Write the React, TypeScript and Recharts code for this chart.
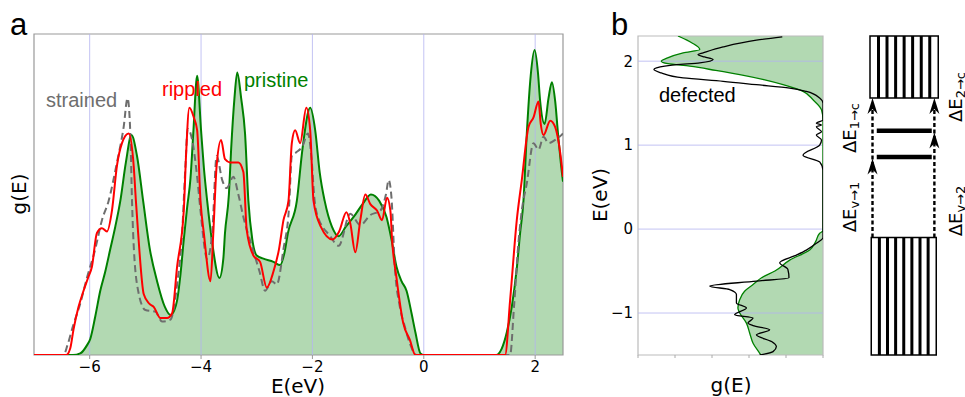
import React from 'react';
import {
  ComposedChart, Area, Line, XAxis, YAxis, ReferenceLine, ReferenceArea, Scatter,
} from 'recharts';

// ---- panel a : g(E) of the three sheets, [E (eV), g] ----
const pristineA: [number, number][] = [
  [-7, 0], [-6.3, 0], [-6.17, 0.005], [-6.05, 0.03], [-5.99, 0.05], [-5.9, 0.12], [-5.81, 0.2],
  [-5.72, 0.26], [-5.63, 0.33], [-5.54, 0.4], [-5.45, 0.48], [-5.35, 0.6], [-5.25, 0.685],
  [-5.15, 0.62], [-5.04, 0.48], [-4.92, 0.33], [-4.79, 0.23], [-4.65, 0.15], [-4.55, 0.125],
  [-4.48, 0.14], [-4.43, 0.17], [-4.37, 0.25], [-4.31, 0.36], [-4.25, 0.46], [-4.19, 0.55],
  [-4.14, 0.69], [-4.07, 0.87], [-4.0, 0.7], [-3.95, 0.585], [-3.89, 0.48], [-3.8, 0.35],
  [-3.67, 0.24], [-3.6, 0.3], [-3.57, 0.38], [-3.5, 0.5], [-3.46, 0.64], [-3.4, 0.8],
  [-3.35, 0.88], [-3.28, 0.8], [-3.21, 0.69], [-3.15, 0.48], [-3.08, 0.36], [-3.0, 0.31],
  [-2.88, 0.3], [-2.7, 0.29], [-2.58, 0.28], [-2.5, 0.32], [-2.44, 0.38], [-2.28, 0.48],
  [-2.18, 0.64], [-2.04, 0.77], [-1.95, 0.7], [-1.87, 0.57], [-1.78, 0.48], [-1.65, 0.4],
  [-1.53, 0.37], [-1.4, 0.4], [-1.26, 0.43], [-1.1, 0.47], [-0.95, 0.5], [-0.8, 0.48],
  [-0.67, 0.43], [-0.58, 0.36], [-0.49, 0.275], [-0.4, 0.23], [-0.31, 0.2], [-0.22, 0.13],
  [-0.15, 0.07], [-0.06, 0.005], [0, 0], [1.3, 0], [1.4, 0.02], [1.49, 0.07], [1.58, 0.15],
  [1.67, 0.27], [1.73, 0.38], [1.79, 0.48], [1.85, 0.69], [1.92, 0.87], [1.99, 0.95],
  [2.05, 0.88], [2.09, 0.79], [2.17, 0.72], [2.24, 0.8], [2.3, 0.85], [2.36, 0.79],
  [2.41, 0.69], [2.46, 0.6], [2.5, 0.54],
];

const rippledA: [number, number][] = [
  [-7, 0], [-6.42, 0], [-6.35, 0.02], [-6.29, 0.08], [-6.2, 0.15], [-6.11, 0.2], [-6.03, 0.24],
  [-5.96, 0.275], [-5.87, 0.38], [-5.78, 0.395], [-5.69, 0.385], [-5.6, 0.45], [-5.51, 0.59],
  [-5.42, 0.66], [-5.3, 0.69], [-5.21, 0.59], [-5.17, 0.48], [-5.13, 0.38], [-5.03, 0.19],
  [-4.93, 0.16], [-4.85, 0.15], [-4.73, 0.115], [-4.61, 0.115], [-4.52, 0.13], [-4.43, 0.275],
  [-4.31, 0.45], [-4.27, 0.62], [-4.21, 0.77], [-4.13, 0.74], [-4.07, 0.7], [-4.01, 0.48],
  [-3.95, 0.38], [-3.83, 0.23], [-3.78, 0.38], [-3.72, 0.59], [-3.64, 0.67], [-3.57, 0.61],
  [-3.48, 0.6], [-3.33, 0.6], [-3.24, 0.57], [-3.18, 0.39], [-3.06, 0.31], [-2.94, 0.29],
  [-2.82, 0.21], [-2.7, 0.26], [-2.6, 0.33], [-2.52, 0.42], [-2.43, 0.48], [-2.37, 0.66],
  [-2.31, 0.7], [-2.22, 0.66], [-2.11, 0.77], [-2.04, 0.7], [-1.98, 0.48], [-1.85, 0.4],
  [-1.64, 0.36], [-1.52, 0.385], [-1.39, 0.445], [-1.32, 0.41], [-1.23, 0.32], [-1.14, 0.42],
  [-1.05, 0.5], [-0.96, 0.47], [-0.84, 0.45], [-0.75, 0.42], [-0.66, 0.49], [-0.6, 0.45],
  [-0.57, 0.36], [-0.49, 0.24], [-0.37, 0.1], [-0.25, 0.047], [-0.15, 0], [1.46, 0],
  [1.55, 0.17], [1.67, 0.42], [1.76, 0.545], [1.88, 0.71], [1.97, 0.74], [2.06, 0.79],
  [2.1, 0.72], [2.15, 0.685], [2.27, 0.73], [2.36, 0.71], [2.45, 0.63], [2.5, 0.555],
];

const strainedA: [number, number][] = [
  [-7, 0], [-6.47, 0], [-6.4, 0.03], [-6.3, 0.09], [-6.17, 0.16], [-6.05, 0.24], [-5.9, 0.33],
  [-5.78, 0.42], [-5.66, 0.48], [-5.51, 0.6], [-5.39, 0.71], [-5.32, 0.8], [-5.27, 0.69],
  [-5.24, 0.48], [-5.15, 0.22], [-5.0, 0.14], [-4.82, 0.135], [-4.7, 0.104], [-4.55, 0.11],
  [-4.43, 0.22], [-4.34, 0.38], [-4.28, 0.59], [-4.24, 0.705], [-4.16, 0.67], [-4.07, 0.555],
  [-4.01, 0.45], [-3.89, 0.3], [-3.8, 0.38], [-3.72, 0.62], [-3.62, 0.545], [-3.54, 0.52],
  [-3.42, 0.555], [-3.33, 0.5], [-3.24, 0.43], [-3.09, 0.34], [-2.95, 0.26], [-2.85, 0.2],
  [-2.73, 0.23], [-2.64, 0.22], [-2.52, 0.33], [-2.42, 0.46], [-2.37, 0.62], [-2.3, 0.63],
  [-2.18, 0.65], [-2.08, 0.69], [-2.02, 0.62], [-1.96, 0.48], [-1.92, 0.44], [-1.68, 0.37],
  [-1.53, 0.34], [-1.32, 0.44], [-1.14, 0.405], [-0.96, 0.436], [-0.78, 0.45], [-0.68, 0.5],
  [-0.63, 0.545], [-0.58, 0.49], [-0.52, 0.275], [-0.43, 0.15], [-0.34, 0.088], [-0.25, 0.036],
  [-0.13, 0], [1.55, 0], [1.62, 0.15], [1.7, 0.35], [1.76, 0.45], [1.85, 0.535], [1.97, 0.66],
  [2.06, 0.64], [2.15, 0.68], [2.24, 0.66], [2.36, 0.67], [2.47, 0.685], [2.5, 0.69],
];

const ticksA = [-6, -4, -2, 0, 2];

// ---- panel b : rotated g(E), [E (eV), g] ----
const pristineB: [number, number][] = [
  [2.3, 3.92], [2.22, 3.55], [2.14, 3.33], [2.1, 3.78], [2.04, 4.2], [2.0, 4.37], [1.97, 4.19],
  [1.94, 3.6], [1.89, 2.9], [1.84, 2.25], [1.78, 1.6], [1.72, 1.08], [1.64, 0.54], [1.54, 0.27],
  [1.42, 0.04], [1.3, 0], [-0.02, 0], [-0.05, 0.09], [-0.15, 0.2], [-0.25, 0.36], [-0.37, 0.9],
  [-0.5, 1.3], [-0.58, 1.66], [-0.66, 1.89], [-0.74, 2.12], [-0.84, 2.25], [-0.94, 2.3],
  [-1.0, 2.25], [-1.12, 2.07], [-1.24, 1.98], [-1.36, 1.89], [-1.48, 1.71], [-1.5, 1.68],
];

const defectedB: [number, number][] = [
  [2.29, 1.1], [2.25, 1.8], [2.17, 2.7], [2.1, 3.24], [2.08, 3.38], [2.05, 3.2], [2.02, 2.97],
  [1.98, 3.33], [1.96, 3.96], [1.92, 4.5], [1.9, 4.57], [1.86, 4.37], [1.8, 3.78], [1.76, 2.7],
  [1.72, 1.8], [1.68, 0.9], [1.64, 0.45], [1.56, 0.09], [1.5, 0], [1.3, 0], [1.26, 0.18],
  [1.24, 0.04], [1.22, 0.18], [1.16, 0.04], [1.12, 0.18], [1.06, 0.04], [1.0, 0.09],
  [0.88, 0.54], [0.8, 0.09], [0.7, 0], [-0.1, 0], [-0.17, 0.18], [-0.25, 0.45], [-0.31, 0.72],
  [-0.4, 1.17], [-0.48, 0.95], [-0.58, 0.92], [-0.62, 1.8], [-0.68, 3.06], [-0.72, 2.52],
  [-0.78, 2.34], [-0.88, 2.34], [-0.94, 2.07], [-1.02, 2.39], [-1.06, 1.89], [-1.12, 2.03],
  [-1.15, 1.89], [-1.2, 1.44], [-1.26, 1.8], [-1.34, 1.39], [-1.4, 1.26], [-1.46, 1.35],
  [-1.5, 1.71],
];

const ticksBE = [-1, 0, 1, 2];
const ticksBG = [0, 1, 2, 3, 4, 5];

// ---- schematic : band boxes, defect levels and transitions on the same E axis ----
const bandBoxes = [
  { x1: 2.4, x2: 7.86, y1: 1.56, y2: 2.3 },
  { x1: 2.5, x2: 7.7, y1: -1.5, y2: -0.1 },
];
const conductionStripes = [3.08, 3.76, 4.45, 5.13, 5.81, 6.5, 7.18];
const valenceStripes = [3.15, 3.8, 4.45, 5.1, 5.75, 6.4, 7.05];
const defectLevels = [
  { E: 1.17, x1: 2.94, x2: 7.34 },
  { E: 0.86, x1: 2.94, x2: 7.34 },
];
const transitions = [
  { x: 2.6, from: -0.1, to: 1.56 },
  { x: 7.55, from: -0.1, to: 1.56 },
];
const arrowTips = [
  { x: 2.6, E: 1.55 }, { x: 2.6, E: 0.83 },
  { x: 7.55, E: 1.55 }, { x: 7.55, E: 1.14 },
];
const gapLabels = [
  { x: 849, y: 128, sub: '1\u2192c' },
  { x: 849, y: 207, sub: 'v\u21921' },
  { x: 955, y: 97, sub: '2\u2192c' },
  { x: 955, y: 211, sub: 'v\u21922' },
];

function mergeSeries(series: Record<string, [number, number][]>, desc = false) {
  const rows = new Map<number, Record<string, number>>();
  for (const [name, pts] of Object.entries(series)) {
    for (const [e, g] of pts) {
      const row = rows.get(e) ?? { E: e };
      row[name] = g;
      rows.set(e, row);
    }
  }
  const out = [...rows.values()].sort((a, b) => a.E - b.E);
  return desc ? out.reverse() : out;
}

const minus = (v: number) => (v < 0 ? '\u2212' + Math.abs(v) : String(v));
const dv = 'DejaVu Sans';
const lib = 'Liberation Sans';

const ArrowHead = (p: any) => (
  <path
    d={`M${p.cx},${p.cy - 1} L${p.cx + 5},${p.cy + 15} L${p.cx},${p.cy + 10} L${p.cx - 5},${p.cy + 15} Z`}
    fill="#000"
  />
);

export default function App() {
  const dataA = mergeSeries({ pristine: pristineA, rippled: rippledA, strained: strainedA });
  const dataB = mergeSeries({ pristine: pristineB, defected: defectedB }, true);

  return (
    <div style={{ position: 'absolute', left: 0, top: 0, width: 965, height: 397, background: '#fff' }}>
      {/* panel a */}
      <div style={{ position: 'absolute', left: 0, top: 0 }}>
        <ComposedChart width={600} height={397} data={dataA} margin={{ top: 34, right: 37, bottom: 0, left: 34 }}>
          <XAxis
            type="number" dataKey="E" domain={[-7, 2.5]} ticks={ticksA} allowDataOverflow
            tickFormatter={minus} height={42} axisLine={false} tickSize={4}
            tickLine={{ stroke: '#999' }} tick={{ fontSize: 15, fill: '#000', fontFamily: dv }}
          />
          <YAxis hide type="number" domain={[0, 1]} allowDataOverflow />
          <Area dataKey="pristine" type="monotone" stroke="none" fill="#008000" fillOpacity={0.3}
            connectNulls isAnimationActive={false} />
          {ticksA.map((t) => (
            <ReferenceLine key={t} x={t} stroke="#b4b4f0" strokeWidth={0.8} />
          ))}
          <Line dataKey="pristine" type="monotone" stroke="#008000" strokeWidth={2} dot={false}
            connectNulls isAnimationActive={false} />
          <Line dataKey="strained" type="monotone" stroke="#6e6e6e" strokeWidth={2} strokeDasharray="7 4"
            dot={false} connectNulls isAnimationActive={false} />
          <Line dataKey="rippled" type="monotone" stroke="#ff0000" strokeWidth={2} dot={false}
            connectNulls isAnimationActive={false} />
          <ReferenceArea x1={-7} x2={2.5} y1={0} y2={1} fill="none" stroke="#999" strokeWidth={1.2} />
        </ComposedChart>
      </div>

      {/* panel b */}
      <div style={{ position: 'absolute', left: 590, top: 0 }}>
        <ComposedChart layout="vertical" width={250} height={397} data={dataB}
          margin={{ top: 36, right: 17, bottom: 0, left: 0 }}>
          <XAxis type="number" domain={[0, 5]} ticks={ticksBG} reversed allowDataOverflow
            tickFormatter={() => ''} height={42} axisLine={false} tickSize={3}
            tickLine={{ stroke: '#aaa' }} />
          <YAxis type="number" dataKey="E" domain={[-1.5, 2.3]} ticks={ticksBE} reversed allowDataOverflow
            width={48} axisLine={false} tickLine={false} tickSize={3} tickMargin={2}
            tickFormatter={minus} tick={{ fontSize: 15, fill: '#000', fontFamily: dv }} />
          <Area dataKey="pristine" type="monotone" stroke="none" fill="#008000" fillOpacity={0.3}
            connectNulls isAnimationActive={false} />
          {ticksBE.map((t) => (
            <ReferenceLine key={t} y={t} stroke="#b4b4f0" strokeWidth={0.8} />
          ))}
          <Line dataKey="pristine" type="monotone" stroke="#008000" strokeWidth={1.3} dot={false}
            connectNulls isAnimationActive={false} />
          <Line dataKey="defected" type="monotone" stroke="#000" strokeWidth={1.3} dot={false}
            connectNulls isAnimationActive={false} />
          <ReferenceArea x1={0} x2={5} y1={-1.5} y2={2.3} fill="none" stroke="#bbb" strokeWidth={1.2} />
        </ComposedChart>
      </div>

      {/* schematic */}
      <div style={{ position: 'absolute', left: 840, top: 0 }}>
        <ComposedChart width={125} height={397} margin={{ top: 36, right: 0, bottom: 42, left: 0 }}>
          <XAxis hide type="number" dataKey="x" domain={[0, 10]} allowDataOverflow />
          <YAxis hide type="number" dataKey="E" domain={[-1.5, 2.3]} allowDataOverflow />
          {bandBoxes.map((b, i) => (
            <ReferenceArea key={'box' + i} {...b} fill="#fff" fillOpacity={1} stroke="#000" strokeWidth={1.5}
              ifOverflow="visible" />
          ))}
          {conductionStripes.map((x) => (
            <ReferenceLine key={'c' + x} segment={[{ x, y: bandBoxes[0].y1 }, { x, y: bandBoxes[0].y2 }]}
              stroke="#000" strokeWidth={3} ifOverflow="visible" />
          ))}
          {valenceStripes.map((x) => (
            <ReferenceLine key={'v' + x} segment={[{ x, y: bandBoxes[1].y1 }, { x, y: bandBoxes[1].y2 }]}
              stroke="#000" strokeWidth={3} ifOverflow="visible" />
          ))}
          {transitions.map((t) => (
            <ReferenceLine key={'t' + t.x} segment={[{ x: t.x, y: t.from }, { x: t.x, y: t.to - 0.05 }]}
              stroke="#000" strokeWidth={2.4} strokeDasharray="4 2.5" ifOverflow="visible" />
          ))}
          {defectLevels.map((d) => (
            <ReferenceLine key={'d' + d.E} segment={[{ x: d.x1, y: d.E }, { x: d.x2, y: d.E }]}
              stroke="#000" strokeWidth={4.5} ifOverflow="visible" />
          ))}
          <Scatter data={arrowTips} dataKey="E" shape={ArrowHead} isAnimationActive={false} />
        </ComposedChart>
      </div>

      {/* texts */}
      <svg width={965} height={397} style={{ position: 'absolute', left: 0, top: 0, pointerEvents: 'none' }}>
        <text x={10} y={35} fontSize={31} fontFamily={lib}>a</text>
        <text x={611} y={35} fontSize={31} fontFamily={lib}>b</text>
        <text x={46} y={107} fontSize={20} fontFamily={lib} fill="#6e6e6e">strained</text>
        <text x={162} y={96} fontSize={20} fontFamily={lib} fill="#ff0000">rippled</text>
        <text x={244} y={87} fontSize={20} fontFamily={lib} fill="#008000">pristine</text>
        <text x={659} y={102} fontSize={20} fontFamily={lib} fill="#000">defected</text>
        <text x={298} y={393} fontSize={20} fontFamily={dv} textAnchor="middle">E(eV)</text>
        <text x={731} y={392} fontSize={20} fontFamily={dv} textAnchor="middle">g(E)</text>
        <text transform="translate(19,194) rotate(-90)" fontSize={20} fontFamily={dv} textAnchor="middle"
          dominantBaseline="central">g(E)</text>
        <text transform="translate(600,195) rotate(-90)" fontSize={20} fontFamily={dv} textAnchor="middle"
          dominantBaseline="central">E(eV)</text>
        {gapLabels.map((l) => (
          <text key={l.sub} transform={`translate(${l.x},${l.y}) rotate(-90)`} fontSize={18} fontFamily={dv}
            textAnchor="middle" dominantBaseline="central">
            ΔE<tspan fontSize={13} dy={5}>{l.sub}</tspan>
          </text>
        ))}
      </svg>
    </div>
  );
}
